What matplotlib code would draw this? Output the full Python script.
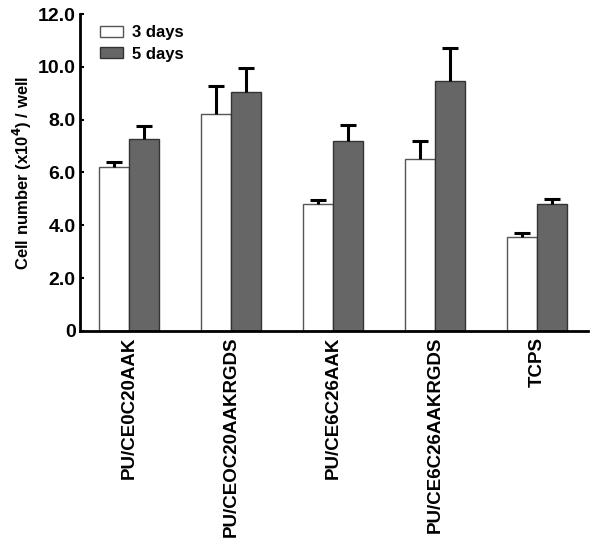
import numpy as np
import matplotlib.pyplot as plt

plt.rcParams['font.family'] = ['Liberation Sans', 'DejaVu Sans']
plt.rcParams['font.weight'] = 'bold'

groups = ["PU/CE0C20AAK", "PU/CEOC20AAKRGDS", "PU/CE6C26AAK", "PU/CE6C26AAKRGDS", "TCPS"]
day3 = [6.2, 8.22, 4.82, 6.5, 3.55]
day3_err = [0.18, 1.05, 0.15, 0.7, 0.15]
day5 = [7.25, 9.05, 7.2, 9.45, 4.8]
day5_err = [0.5, 0.9, 0.6, 1.25, 0.18]

x = np.arange(len(groups))
w = 0.29

fig = plt.figure(figsize=(6, 5.47), dpi=100)
ax = fig.add_axes([0.1333, 0.3949, 0.8467, 0.5795])

ax.bar(x - w / 2, day3, w, color='white', edgecolor='#555555', linewidth=1.0, label='3 days')
ax.bar(x + w / 2, day5, w, color='#666666', edgecolor='#333333', linewidth=1.0, label='5 days')
for xs, vals, errs in [(x - w / 2, day3, day3_err), (x + w / 2, day5, day5_err)]:
    _, caps, _ = ax.errorbar(xs, vals, yerr=[np.zeros(len(xs)), errs], fmt='none',
                             ecolor='black', elinewidth=2.2, capsize=5.5, capthick=2.2)
    # only the upper cap, like the original figure
    caps[0].set_visible(False)

ax.set_xlim(-0.48, 4.5)
ax.set_ylim(0, 12)
ax.set_yticks([0, 2, 4, 6, 8, 10, 12])
ax.set_yticklabels(['0', '2.0', '4.0', '6.0', '8.0', '10.0', '12.0'], fontsize=14, fontweight='bold')
ax.set_xticks(x)
ax.set_xticklabels(groups, rotation=90, fontsize=13.5, fontweight='bold', va='top')
ax.tick_params(axis='x', length=0, pad=4)
ax.tick_params(axis='y', direction='in', length=3, width=1.5, pad=3)

for s in ['top', 'right']:
    ax.spines[s].set_visible(False)
ax.spines['left'].set_linewidth(2)
ax.spines['bottom'].set_linewidth(2)

ax.set_ylabel('Cell number (x10$^{\\mathbf{4}}$) / well', fontsize=12, fontweight='bold', labelpad=3)

ax.legend(loc='upper left', bbox_to_anchor=(0.01, 1.012), frameon=False, fontsize=12,
          handlelength=1.4, handleheight=0.6, handletextpad=0.5, labelspacing=0.38)

fig.savefig('out.png', dpi=100)
